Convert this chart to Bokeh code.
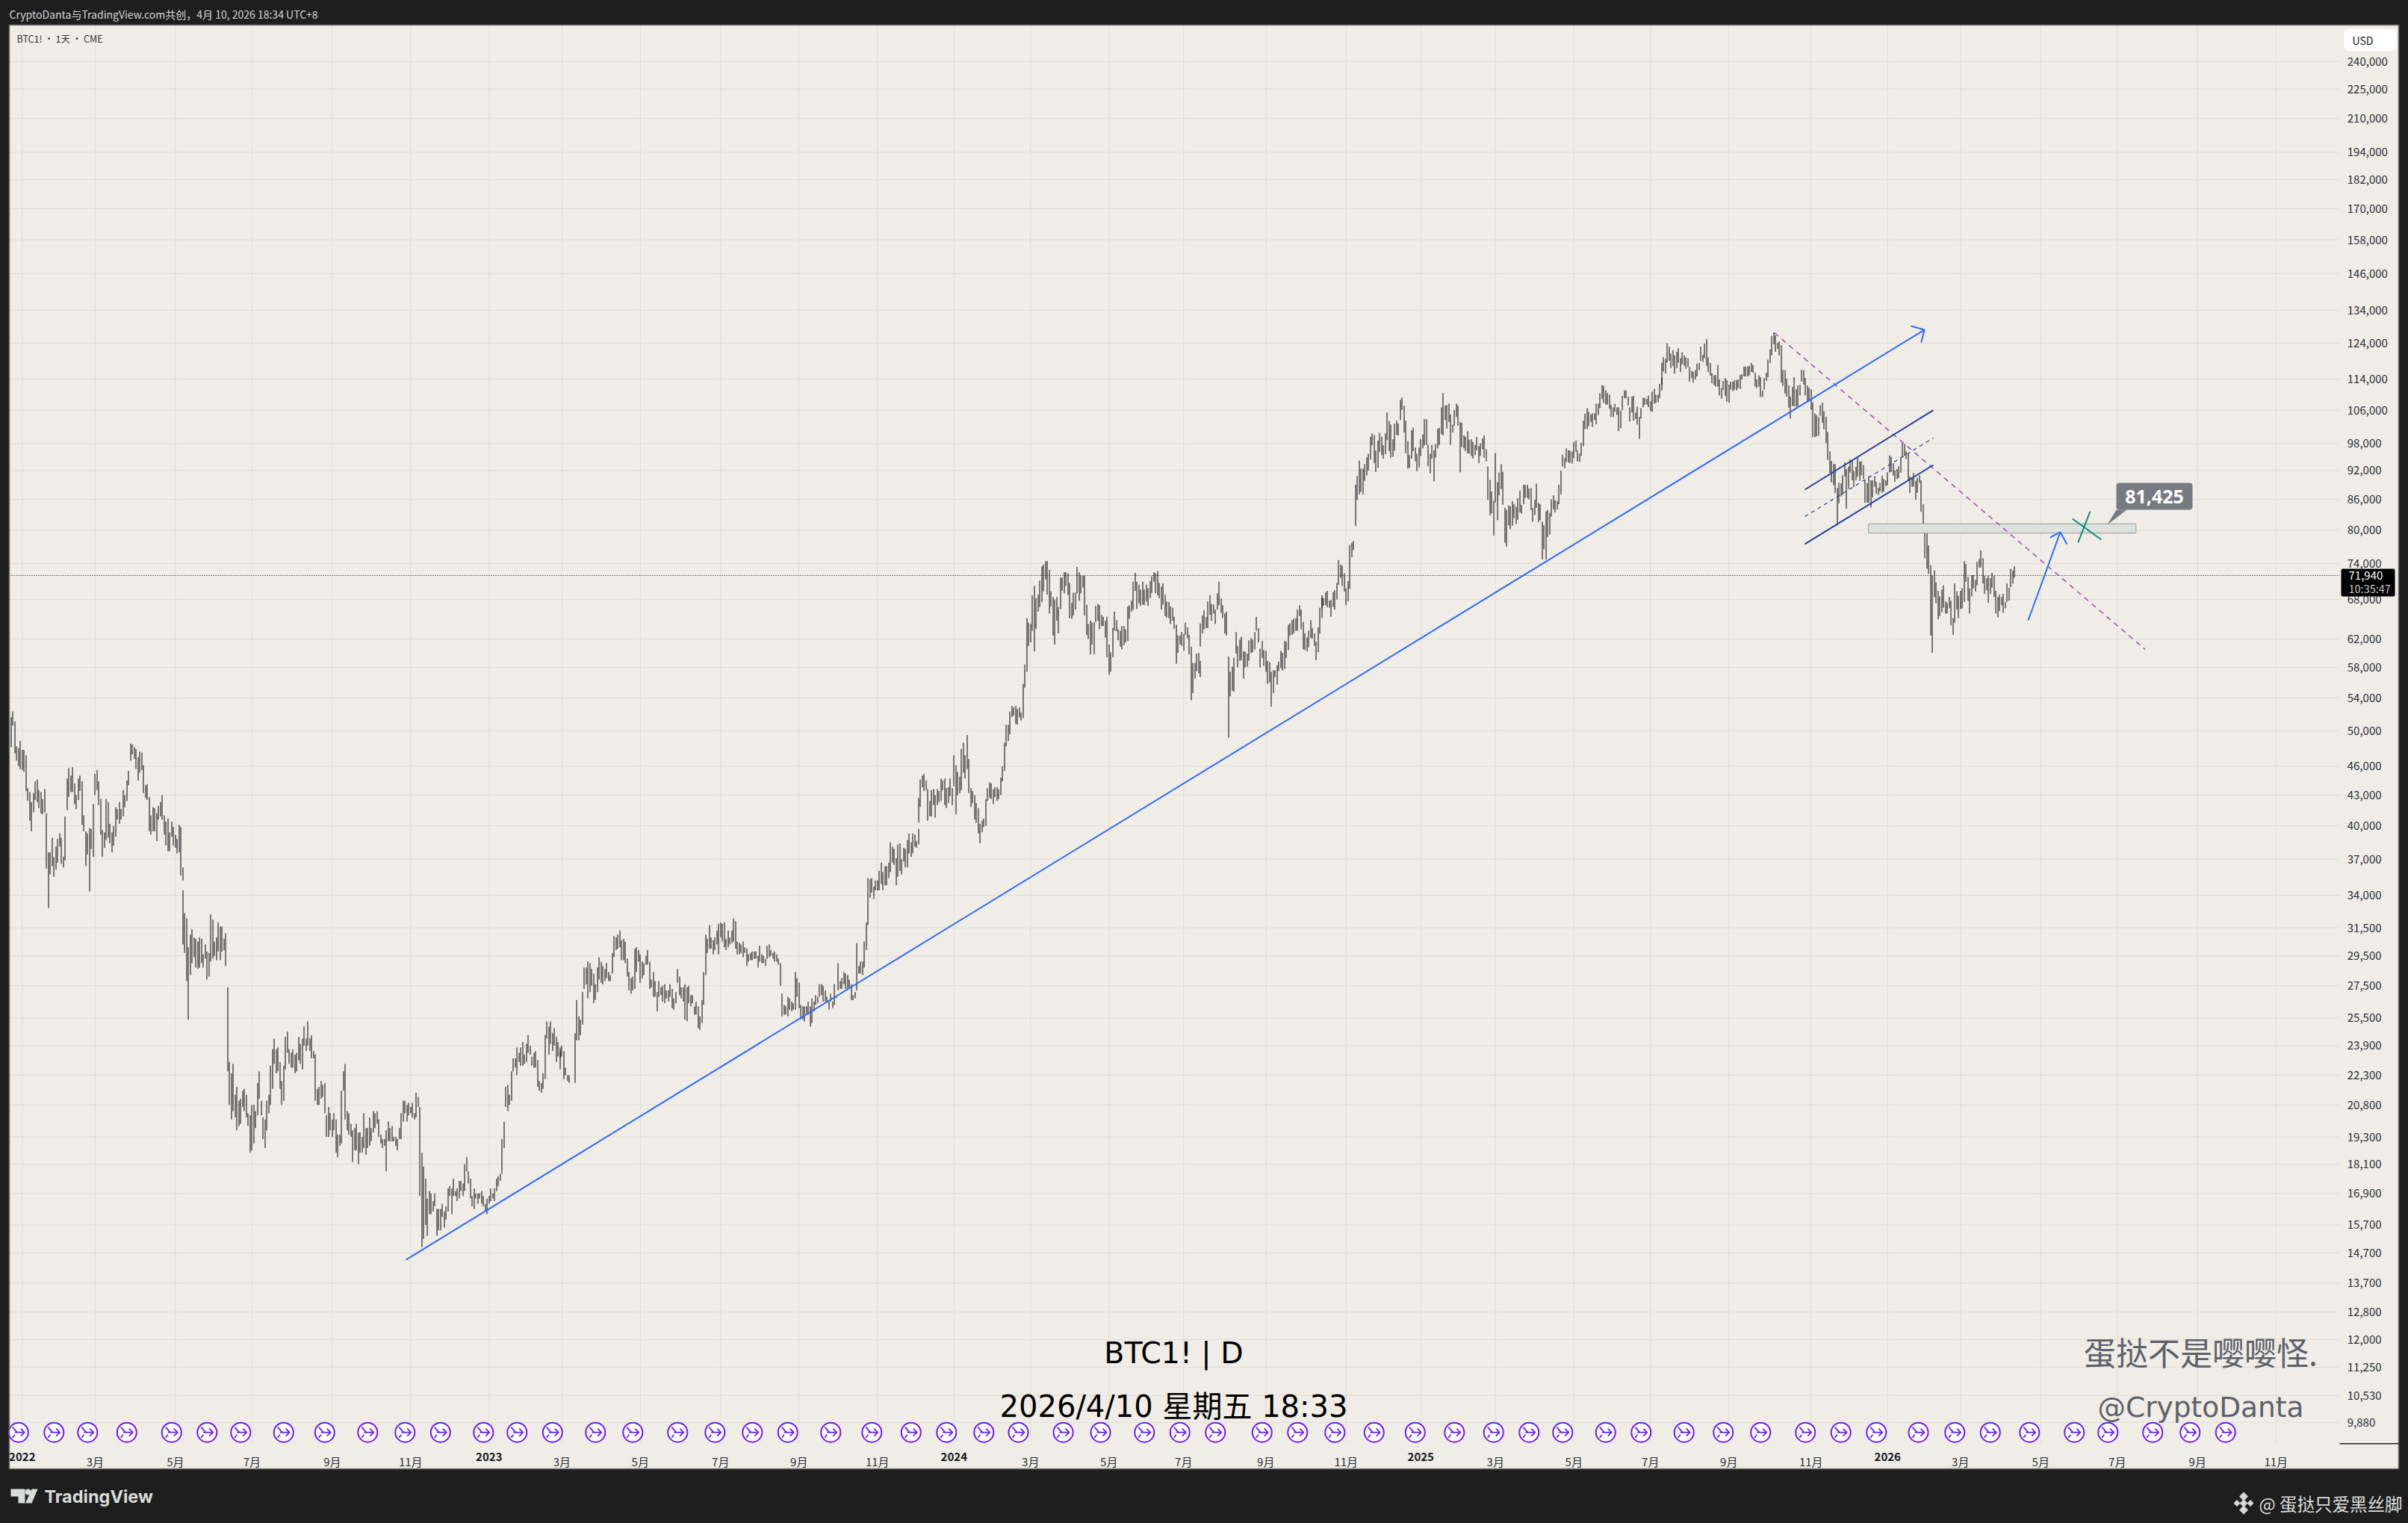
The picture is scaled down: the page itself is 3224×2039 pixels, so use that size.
from bokeh.plotting import figure
from bokeh.embed import file_html
from bokeh.resources import INLINE
from bokeh.models import (FixedTicker, NumeralTickFormatter, Label, BoxAnnotation, PolyAnnotation, Range1d)
import math

# ---------- daily bars, (high, low) in thousands of USD ----------
bars_a = [(51.6,48.1),(52.3,50.6),(51.1,47.4),(48.2,46.6),(48,46),(48.8,45.7),(47.8,45.6),(47.8,45.4),(47.2,43.4),(43.7,42.4),(43.3,40.5),(42.3,39.5),(43.2,41.3),(44.4,42.5),(44.6,42.3),(43.5,41.7),(43.3,41.2),(42.6,41.1),(43.6,41.3),(41.2,36.2),(37.6,33),(37.6,35.7),(38.9,36.4),(37.2,35.5),(38.1,36.1),(38.8,36.7),(39.3,38.1),(38.9,36.6),(37.2,36.3),(40.9,36.9),(44.7,41.5),(45.8,42.8),(45,43.3),(45.9,43.3),(44.2,42.1),(43,41.6),(44.7,42.5),(45,43.4),(44.4,40.1),(41,39.5),(39.5,36.4),(39.3,37.4),(39.8,34.3),(39.7,37.9),(42.1,37.2),(45.2,43),(45.6,43.5),(44.4,42),(42.6,39.2),(39.6,37.2),(39.4,38),(42.6,38.7),(42.3,38.9),(40.2,38.4),(39.4,37.6),(40,38.2),(41.8,39),(41.6,40.6),(42.3,40.2),(41.6,40.6),(43.5,40.9),(43,41.8),(44.5,42.4),(45.5,44),(48.5,46.6),(48.4,47.3),(48.1,46.8),(47.9,45.7),(47,44.5),(47.6,45.3),(47.5,45.6),(46.1,43.2),(44,42.7),(44.1,42.5),(42.8,39.5),(41,39.2),(41.8,39.5),(41.7,39.5),(41.2,38.6),(41.9,40.6),(42.3,40.9),(43,40.6),(41,39.2),(40.4,38.2),(40.7,37.7),(39.4,37.7),(40.4,39),(39.9,38.2),(39.2,38),(38.8,37.5),(40.1,37.6),(39.9,35.6),(36.3,35.2)]
bars_b1 = [(34.4,30.3),(32.6,29.7),(32.2,27.8),(30.1,25.4),(31,28.2),(31.4,29),(30.8,29.4),(30.7,28.7),(30.5,28.6),(30.8,28.7),(30.7,29),(29.6,28.7),(30.3,29.3),(29.8,27.9),(29.7,28.1),(32.5,29.1),(32.1,29.3),(30.5,29.5),(30.8,29.2),(31.9,29.8),(31.6,29.2),(31.6,29.8),(30.7,29.9),(31.1,28.8)]
bars_b2 = [(27.4,22.5),(23,20.8),(22.4,20.1),(22.9,20.5),(21.3,20.2),(21.7,19.6),(21,19.8),(21.1,19.9),(21.5,20.7),(21.6,20.5),(21.3,20.2),(20.4,19.8),(20.3,18.6),(20.8,18.7),(20.8,19),(20.5,19.7),(21.9,20.3),(22.5,21.1),(21,20.3),(20.2,19.2),(20.1,18.8),(21,19.6),(21.3,20.4),(22.8,20.8),(23.7,21.6),(24.3,22.9),(23.7,22.4),(23.8,22.5),(23,21.6),(22,20.8),(22.8,21),(24.4,22.6),(24.7,23.5),(23.7,22.9),(23.5,22.7),(23.7,22.7),(23.4,22.4),(23.5,22.5),(24.4,23.1),(24,22.9),(24.3,22.6),(25,23.9),(24.3,23.6),(25.3,23.9),(24.3,23.6),(24.5,23.2),(23.6,23.2),(23.4,21),(21.6,20.8),(21.7,20.8),(22,21.1),(21.8,21.2),(21.9,20.4),(20.3,19.3),(20.7,19.3),(20.4,19.6),(20.1,19.3),(20.4,19.6),(20.1,18.6),(19.4,18.4),(19.4,18.9),(21.5,19),(22.5,21.5),(22.9,20.1),(20.5,19.6),(20.4,19.4),(19.9,19.3),(19.6,18.2),(19.7,18.7),(19.9,18.7),(19.5,18.1),(19.5,18.6),(19.3,18.6),(20.4,18.8),(19.7,18.5),(19.7,18.8),(20.2,18.9),(19.7,19.1),(20.5,19.5),(20.4,19.7),(20.5,19.9),(20.1,19.3),(19.4,19),(19.2,18.8),(19.2,18.9),(19.6,17.8),(20,19.1),(19.7,19.1),(19.8,19.1),(19.3,19.1),(19.3,18.9),(19.2,18.7),(19.7,19.2),(20.4,19.2),(21,20),(21,20.4),(20.8,20),(20.9,20.3),(20.7,20.4),(20.9,20.2),(20.4,20.1),(21.4,20.2),(21.2,20.7),(20.7,16.8),(18.6,14.9),(18,15.2),(17.5,15.7),(16.7,15.3),(17,16.1),(16.9,16.1),(16.6,16.2),(16.9,16.4),(16.3,15.3),(16.3,15.5),(16.3,15.5),(16.5,16),(16.2,15.6),(16.4,15.9),(17.1,16.2),(17.2,16.8),(17.1,16.1),(17.5,16.8),(17,16.8),(17.1,16.6),(17.4,16.7),(17.4,17),(17.3,16.8),(18.1,17),(18.4,17.8),(17.8,17.3),(17.5,16.7),(16.8,16.4),(17.1,16.3),(16.9,16.7),(16.9,16.5),(16.9,16.7),(17,16.5),(16.8,16.4),(16.5,16.2),(16.7,16.1),(16.8,16.5),(17.1,16.6),(16.9,16.7),(17.1,16.6),(17.5,17),(17.6,17.2),(17.7,17.4),(19.2,17.7),(20,18.8),(21.7,20.7),(21.8,20.5),(21.3,20.8),(22.5,21),(23.2,22.5),(23.2,22.7),(23.8,22.3),(23.5,23),(23.8,22.8),(24.1,22.8),(23.4,22.9),(24,23),(24.5,23.5),(23.9,23.4),(23.3,22.8),(23.5,22.7),(23.6,22.7),(23.1,21.7),(22,21.5),(21.9,21.4),(22.4,21.6),(24.5,22.1),(25.3,24.3),(25,23.4),(25.3,24),(24.6,23.6),(24.9,23.9),(24.4,23),(24.1,23.3),(23.8,23.2)]
bars_c1 = [(23.6,22.6),(23.9,23.3),(23.6,22.1),(22.7,22.3),(22.3,22),(22.3,21.9)]
bars_c2 = [(24.6,21.9),(26.6,24.2),(25.6,24.2),(25.4,24.5),(27.1,25.1),(28.7,27.3),(28.7,27.6),(29.1,26.7),(29,27.1),(28.6,27.5),(28.3,26.4),(27.6,26.6),(28.7,27.1),(29.4,27.9),(29.1,27.7),(28.8,27.6),(28.6,27.8),(29,28),(28.4,27.8),(28.2,27.8),(29.7,28.3),(30.9,29.4),(30.8,29.9),(31,30),(31.3,30.1),(30.6,29.2),(30.7,29.2),(30.5,29),(29.3,28.1),(28.4,27.2),(28,27),(28.1,27.2),(30,27.3),(30.1,28.4),(29.9,29.1),(29.6,27.7),(29.1,28),(29,28.2),(29.5,28.9),(29.9,28.9),(29.1,27.3),(27.9,27.4),(28.4,26.8),(27.8,26.8),(27.1,25.9),(27.8,26.8),(27.4,26.9),(27.5,26.5),(27.6,26.4),(27.2,26.7),(27.2,26.5),(27.6,26.8),(27.3,26.1),(26.7,26),(27.1,26.4),(28.6,27.7),(28.1,26.9),(27.4,26.7),(27.4,26.5),(27.6,25.4),(27.4,25.3),(27.5,26.4),(26.9,26.2),(26.9,26.4),(26.2,25.7),(26.5,25.7),(26.2,24.9),(25.6,24.8),(26.6,25.2),(28.4,26.3),(31,28.2),(30.7,29.7),(31.7,30),(30.8,30),(30.6,29.6),(30.8,29.9),(31.3,30.3),(31.8,29.6),(31.9,30.8),(31.8,30.5),(31.9,30.1),(30.7,29.9),(31.3,30.1),(30.8,30.3),(31.3,30.4),(32.2,30.5),(32,30),(30.5,29.6),(30.4,29.6),(30.3,29.7),(30.5,29.4),(30.1,29.7),(30,28.8),(29.6,29.1),(29.7,29.2),(29.8,29.2),(29.8,29.3),(29.8,29.3),(29.5,28.7),(30.2,29.1),(29.6,29),(29.5,29),(29.3,28.8),(30.2,29.3),(30.3,29.4),(29.9,29.5),(29.7,29.3),(29.8,29.1),(29.6,29.1),(29.3,28.9),(29,27.5),(27,25.6),(26.3,25.7),(26.2,25.7),(26.8,25.6),(26.7,26),(26.5,25.9),(26.4,26),(28.4,26),(28,26.8),(27.7,26.1),(26.3,25.4),(26.2,25.4),(26.2,25.3),(26.2,25.7),(26.5,25.7),(26.2,25),(26.7,25.2),(26.5,25.9),(26.9,26.3),(26.8,26.4),(27.6,26.8),(27.6,26.9),(27.5,26.5),(27.2,26.5),(26.8,26.5),(26.5,26),(27,26.5),(26.5,26.1),(27.6,26.3),(26.8,26.7),(29,27.2),(27.8,27.3),(28,27.3),(28.4,27.6),(28.3,27.3),(28.2,27.3),(27.9,27.4),(27.6,26.6),(26.9,26.6),(27.1,26.7),(30.4,27.2),(28.8,28.3),(29.1,28.3),(29.1,28.2),(30.5,28.7),(31.9,29.9),(35.4,31.7),(35.3,33.8),(35.4,34.2),(34.7,33.7),(35.2,34.4),(35.2,34.4),(36,34.4),(36.7,34.9),(35.9,34.4),(36.4,34.8),(36.4,34.8),(36.7,35.4),(38.5,35.9),(38.1,36.7),(37.9,36.5),(37.1,34.8),(38.3,35.5),(38.4,36),(37,35.7),(38,36.8),(37.9,36.3),(38.7,36.3),(39.3,37.5),(38.5,37.2),(39.3,37.5),(39.2,38.1),(38.6,38),(39.7,38.3)]
bars_c3 = [(42.7,40.3),(44.6,41.8),(45,43.8),(45.2,43.4),(44.5,43.5),(43.6,40.5),(42.4,40.9),(43.5,40.9),(43.6,42),(43,40.8),(43.6,42),(43.4,42.3)]
bars_d1 = [(44.7,42.4),(44.5,43.5),(44.7,42),(43.7,41.7),(43.8,42.2),(44.7,42.9),(43.7,42),(47.2,43.9),(46.1,41.1),(45.4,43),(44.9,43.2),(47.9,43.5),(48.6,45.3),(47.2,44.7),(49.5,45.7),(46.8,43.2),(43.7,41.8),(43.4,42.2),(43,40.6),(42.2,40.3),(41.7,39.3),(40.2,38.4),(40.5,39.4),(40.7,39.9),(42.6,40),(43.7,42.4),(44.3,42.7),(44.2,42.6),(43.6,42.1),(43.8,42.8),(43.8,42.4),(43.6,42.6),(44.8,43),(46,44.4),(48.6,45.5),(50.7,48.2),(50.7,48.8),(52.3,49.6),(53,51.6),(52.8,51.8),(53,50.8),(52.6,50.7),(52.8,51.6),(52.2,51.2),(55.8,51.5),(58.4,55.3),(65.1,57.4),(64.4,61),(64.2,61.5),(68.7,63.2),(70.2,60.2),(68.2,63.5),(68.8,66.1),(71.1,66.8),(73.5,67.6),(73.8,69.3),(74.4,71.3),(74.4,68.8),(72.9,65.8),(69.3,66.9),(68.4,62.5),(68,61.2),(68.4,64.7),(66.8,62.8),(71.6,66.5),(71.6,69.4),(72.5,69),(72.5,70.2),(72.3,68.7),(70.7,65.1),(67.5,65),(69.1,65.5),(69.1,66.4),(73.4,69),(72.5,67.8),(71.9,69),(71.9,69.9),(71.9,65.5),(67.2,62.6),(64.2,62),(64.7,59.8),(64.4,61.2),(64.5,59.8),(67,64.5),(67.3,64.7),(67.1,63.4),(65.6,63.9),(65.3,63.9),(64.7,62.2),(65.3,59.4),(61.2,57),(60.1,57.4),(63.6,59.4),(66.1,63.2),(64.8,63.1),(63.4,61.8),(63.2,60.9),(63.9,60.5),(63.9,61.1),(63.4,61.5),(66.9,61.7),(67.1,65),(67.8,66.1),(70.9,66.4),(72.4,69.4),(70.9,66.5),(70.4,67.4),(69.6,67),(70.9,67.2),(69.6,67.1),(70.4,67.7),(69.8,67),(71,68.2),(71.8,69),(72.5,70.9),(72.3,69),(72.7,68.7),(70.7,68.2),(70.1,66.4),(70.6,67.2),(68.8,65.4),(67.7,65.2),(67.6,65.1),(66.9,64.2),(66.7,64.7),(65.3,63.5),(64.1,58.5),(62.5,60),(62.5,61.2),(63,61),(62.7,60.3),(64.4,62.6),(63.7,62.1),(62.6,59.8),(60.9,53.7),(58.6,54.6),(58.6,56.5),(59.9,57.5),(60,57.2),(58.9,56.7)]
bars_d2 = [(64.3,60.9),(65.5,62.8),(66.3,63.4),(65.3,63.6),(67.7,63.6),(68.7,65.6),(67.3,64.7),(67.2,65.8),(66.4,64.2),(69,66.4),(70.9,67.1),(68.2,65.9),(67.1,65.1),(65.8,62.8),(66.1,62.5)]
bars_d3 = [(59.5,49.2),(57.4,54.2),(58.1,54.9),(59.3,54.8),(63,59.9),(61,58),(61.9,58.9),(62.3,59),(60.2,56.5),(60.2,58),(59.9,58.1),(61.8,58.9),(62.1,60),(61.9,60.1),(63,60.5),(65.3,63.2),(63.6,61.5),(60.6,58),(61.7,59.3),(60.4,58.2),(60.3,57.4),(58.9,55.8),(58.7,56),(57.4,52.9),(57.6,54.6),(57.6,56.7),(58.3,55.7),(58.8,57.5),(60.3,57.9),(60,57.6),(61.7,57.8),(61.6,59.3),(64.1,60.4),(64.3,62.5),(64.8,62.6),(65,62.8),(65.1,63.2),(66.4,63.2),(67.1,65.4),(66.4,63.4),(64.5,60.5),(62.8,60.4),(62.2,60.2),(63.2,60.8),(64.8,62.1),(63.6,62.1),(62.8,61),(61.6,59),(63.7,60.1),(66.7,62.8),(68.3,65.1)]
bars_e1 = [(68.7,66.6),(68.2,67),(69.1,67.1),(69.4,66.8),(67.8,66.7),(67.9,65.3),(69.2,66.8),(69.5,66.4),(70.7,68),(74.6,70.4),(73.8,71.6),(73.6,70.2),(72.3,69.3),(69.8,67.1),(71,67.7),(77.3,69.7),(77.7,75.1),(78,76.4)]
bars_e2 = [(89,80.8),(90.8,85.9),(94.2,87),(92.4,87.5),(92.4,87),(93.4,89.8),(94.9,91),(95.7,92),(99.6,94.4),(100.4,97.6),(100,93.6),(96.4,91.7),(98.7,92.6),(100.5,96.1),(99.6,95.4),(97.6,94.6),(100.4,95.6),(105.4,98.8),(103.3,96.3),(102.5,94.8),(99,95),(102.7,96.4),(103.4,100),(102.7,99.9),(108.6,103.6),(109.2,106.1),(107.1,100.6),(103.4,95.8),(98.6,92.4),(95.4,92.6),(101.1,94.6),(101.7,96.3),(97.1,94),(95.7,91.9),(97.1,92.7),(99,95.2),(100.1,96.9),(103.8,97.6),(103.8,97.7),(97.7,92.9),(95.7,91.4),(97.7,94.6),(96.5,89.7),(97.9,94.8),(101.5,96.9),(101.7,97.7),(106.7,100.2),(110.3,99.9),(107.1,103.6),(107.3,101.5),(107.6,103.1),(104.9,97.7),(102.4,100.6),(106,102.2),(107.6,104.3),(107.1,102.2),(103.1,91.6),(102.9,97.2),(99.9,96.9),(99.6,96.3),(100.9,95.8),(98.9,95.7),(99,95.2),(98.4,94.6),(97.7,95.4),(99.5,96.5),(97.4,93.6),(98.1,95.2),(99.2,96.7),(99.9,94.8),(96.7,94),(92.9,85.9),(90,82.8),(87.6,83.2),(85.7,79),(95.8,85.4),(89.5,81.9),(91.6,86.8),(93.4,88.1),(91.7,84.9),(84.3,77.7),(83.9,77),(84.8,80.9),(84.6,80.2),(85.6,80.8),(85,82.3),(84.5,81.2),(86.2,82),(87.8,83.4),(84.9,83.2),(89,85),(88.9,86.3),(89,86.3),(88.2,86),(88.3,83.9),(84.3,81.6),(85.9,82.9),(89.2,84.3),(85.3,81.5),(85,81.9),(81.6,74.7),(80.9,76.5),(83.6,74.7),(83.9,78.7),(83.3,79.2),(86,82.6),(86.8,84),(85.8,83.4),(85.6,84),(89,85),(92,87),(95.5,92.9),(94.7,92.5),(96.9,93.9),(96.5,93.7),(96.4,93.7),(96.2,93.5),(98.4,94.7),(98.7,96.2),(96.5,94),(95.7,93.9),(98.2,95.2),(103.4,97.4),(105.1,101.4),(106.5,101.4),(105.6,102.1),(104.9,103.1),(105.2,101.9),(105.2,103.6),(107.6,102.5),(107.6,104.8),(110.3,106.5),(112.4,108.8),(112.2,107.8),(111,107.4),(110.3,107.4),(109.9,106.3),(107.3,104.3),(106.7,104.3),(107.6,105.6),(106.7,104.8),(106.7,100.9),(105.9,101.6),(109.6,106),(111,109),(111,109),(109.4,107.1),(106.7,103.2),(109.4,105.4),(109.6,103.4),(105.4,103.8),(106.9,102.5),(104.3,99.1),(106.5,103.9),(109.1,106.7),(109.1,107.3),(108.8,107.4),(109.7,106.7),(108.2,105.8),(110.7,105.6),(111.4,107.6),(109.9,107.8),(109.9,108),(112.7,109),(114.4,111)]
bars_e3 = [(118.5,112.5),(120,116),(119.5,115.5),(124,118.5),(123,119),(121,117),(122,117.5),(120.5,115.5),(121.5,117),(122.5,118.5)]
bars_f1 = [(119.7,115.9),(121.4,118),(120.5,117.6),(119.9,116.8),(119.7,117.2),(117.2,113.3),(116.2,114.3),(115.9,113.1),(116.4,113.9),(118.2,114.7),(118.4,116.4),(123,118.9),(120.7,118.7),(123.9,119.7),(125.2,117.6),(119.9,115.9),(118.4,114.9),(115.6,112.9),(115,112.4),(115.1,112),(117.8,112),(113.9,109.7),(111.6,108.9),(113.5,111.2),(114.3,109.5),(113.7,108.1),(112.5,107.9),(113.3,111.2),(113.3,110.8),(113.7,111.2),(113.7,111),(113.9,111.6),(115.1,111.4),(115.3,113.9),(117.4,114.7),(117.4,114.7),(117.4,114.7),(117.6,115),(118.4,115.9),(117.8,115.7),(115.7,112),(113.9,111.6),(115,112),(114.5,109.3),(111,109.3),(114.3,111.2),(115.7,113.5),(119.3,114.5),(122.2,118.4),(126.1,120.5),(127.2,123.7),(126.3,121.5),(124.1,122.4),(124.5,120.5),(123.4,113.1),(116.5,112.2),(116.4,110.2),(114.1,109.4),(112.3,106.6),(109.4,103.9),(111.9,107),(114.5,107),(111.3,106.8),(112.3,107),(112.5,109.7),(116.5,113.3),(116.4,112.5),(114.3,109.7),(112.3,108),(111.7,108.1),(111.3,106.1),(107.9,99.5),(105.2,99.5),(104.8,99.7),(104.3,99.8),(107.2,104.6),(107.9,102.9),(105.7,101.3),(104.4,98.1),(100.7,94.3),(96.2,91.5),(94.1,89.5),(93.4,88.9),(93.4,87.3),(88.3,80.9),(89.4,85.2),(89.3,86.6),(91,86.9),(93.8,90.7),(92.3,84.1),(92.9,88.1),(94.4,91.6),(94.4,89.9),(91.9,88.5),(92.8,89.9),(95,90.7),(94,89.8),(94,91),(93.2,90.2),(90,85.3),(89.3,85.3),(90.8,85.3),(89.9,84.4),(89.9,86.4),(90.8,88.6),(89.6,87.1),(88.4,86.9),(89.4,87.6),(90.9,87.3),(90.2,87.6),(89.9,88.7),(91.6,88.9),(95.3,91.6),(95,91.7),(93.6,90.9),(92,89.6),(92.3,90.2),(92.9,90.4),(95,91.5),(98.2,95),(97.9,95.2),(96.2,94.5),(95.7,89.8),(90.7,87.3),(90.5,88.6),(91.5,88.6),(89.8,85.9),(90.5,87.3),(91,89.4),(89.9,83.5),(85,81.2)]
bars_f2 = [(79.8,74.9),(79.5,73.1),(77.2,72.2),(73.7,62.5),(71.9,60),(72.8,68.4),(70.8,67.4),(69.4,64.9),(68.5,65.4),(69.6,66),(70.3,66.7),(67.7,65.8),(67.5,65.8),(68.4,66.6),(67.8,64),(65.1,62.6),(70.6,64.4),(69.3,66.4),(68.6,65.1),(69.4,66.5),(69.8,66.6),(74.4,67.6),(73.9,70.9),(71.7,67.8),(69.8,65.8),(72,68.5),(72,69.8),(71.2,69.3),(74.3,70.3),(74.8,73.3),(76.3,73.3),(74.9,70.6),(71.9,68.9),(71.5,69.5),(71.9,67.5),(71.5,68.9),(72.4,69.9),(71.9,68.4),(69.4,65.8),(68.4,65.2),(68.8,66.2),(68.4,67.1),(68.9,65.9),(67.6,66.6),(70.6,67.6),(69.9,67.8),(73.1,70),(72.8,70.6),(73.5,71.6)]

# (first bar number, bars)
segments = [(-6,bars_a),(86,bars_b1),(110,bars_b2),(288,bars_c1),(296,bars_c2),(480,bars_c3),(492,bars_d1),(631,bars_d2),(646,bars_d3),(696,bars_e1),(714,bars_e2),(878,bars_e3),(888,bars_f1),(1019,bars_f2)]

# ---------- axes ----------
price_ticks = [9880,10530,11250,12000,12800,13700,14700,15700,16900,18100,19300,20800,22300,23900,25500,27500,29500,31500,34000,37000,40000,43000,46000,50000,54000,58000,62000,68000,74000,80000,86000,92000,98000,106000,114000,124000,134000,146000,158000,170000,182000,194000,210000,225000,240000]
month_bars = [0,39,82,123,166,208,250,289,331,374,416,458,499,540,582,622,666,709,749,789,831,872,914,958,999,1038,1081,1122,1165,1207]
month_names = ["2022","3月","5月","7月","9月","11月","2023","3月","5月","7月","9月","11月","2024","3月","5月","7月","9月","11月","2025","3月","5月","7月","9月","11月","2026","3月","5月","7月","9月","11月"]
event_bars = [-2,17,35,56,80,99,117,140,162,185,205,224,247,265,284,307,327,351,371,391,410,433,455,476,495,515,533.5,557.5,577.5,601,620,639,664,683,703,724,746,767,788,807,825,848,867,890,911,931,955,974,993,1015.5,1035,1054,1075,1099,1117,1141,1161,1180]

# ---------- drawings (bar number, price) ----------
trend = ([205.5,1018.7],[14470,127950])
trend_head = ([1011.5,1018.7,1017],[129080,127950,124200])
down = ([938.3,1137],[127080,60490])
chan_up = ([954.7,1023.5],[87980,106000])
chan_lo = ([954.7,1023.5],[77430,93210])
chan_mid = ([954.7,1023.5],[82600,99290])
zone = (988.8,1132,81200,79480)
up_arrow = ([1074.3,1091.5],[64760,79630])
up_head = ([1086,1091.5,1095],[78650,79630,77430])
cross_a = ([1098,1113.5],[82170,78240])
cross_b = ([1101,1107.5],[77700,83620])
last_price = 71940

BG, DARK, GRID = "#f0ede6", "#1e1e1e", "#e0ddd6"
CJK = "Noto Sans CJK SC"
PANE_LEFT, PANE_RIGHT, PANE_LOW, PANE_TOP = -6.92, 1241.2, 9409, 261400
X0, X1 = -11.72, 1277.9
WIDTH = 3224

p = figure(width=WIDTH, height=2039, output_backend="svg", toolbar_location=None, y_axis_type="log",
           y_axis_location="right", x_range=Range1d(X0,X1), y_range=Range1d(7800,276945),
           min_border=0, background_fill_color=DARK, border_fill_color=DARK, outline_line_color=None)

def canvas_box(l,t,r,b,fill,line=None,radius=0,level="annotation",lw=1):
    p.add_layout(BoxAnnotation(left=l,right=r,top=t,bottom=b,left_units="canvas",right_units="canvas",top_units="canvas",bottom_units="canvas",
                        fill_color=fill,fill_alpha=1 if fill else 0,line_color=line,line_width=lw,line_alpha=1 if line else 0,border_radius=radius,level=level))
def canvas_poly(xs,ys,fill,level="annotation"):
    p.add_layout(PolyAnnotation(xs=xs,ys=ys,xs_units="canvas",ys_units="canvas",fill_color=fill,fill_alpha=1,line_color=None,level=level))
def canvas_text(text,x,y,size,color,align="left",font=CJK,style="normal"):
    p.add_layout(Label(x=x,y=y,x_units="canvas",y_units="canvas",text=text,text_font=font,text_font_size=f"{size}px",text_color=color,
                       text_align=align,text_baseline="middle",text_font_style=style))

canvas_box(12,33,3211,1966,BG,level="underlay")

p.grid.visible=False
for ax in (p.xaxis[0],p.yaxis[0]):
    ax.axis_line_color=None; ax.major_tick_line_color=None; ax.minor_tick_line_color=None
    ax.major_label_text_color="#2a2e39"; ax.major_label_text_font=CJK; ax.major_label_text_font_size="15px"
p.yaxis.ticker=FixedTicker(ticks=price_ticks)
p.yaxis.formatter=NumeralTickFormatter(format="0,0")
p.yaxis.major_label_standoff=4
p.yaxis[0].fixed_location=PANE_RIGHT
p.xaxis.ticker=FixedTicker(ticks=month_bars)
p.xaxis.major_label_overrides={b:("" if n.startswith("20") else n) for b,n in zip(month_bars,month_names)}
p.xaxis.major_label_standoff=8
p.xaxis[0].fixed_location=PANE_LOW

# grid, stopping at the edges of the price pane
p.segment(month_bars,[PANE_LOW]*len(month_bars),month_bars,[PANE_TOP]*len(month_bars),line_color=GRID,line_width=1)
p.segment([PANE_LEFT]*len(price_ticks),price_ticks,[PANE_RIGHT]*len(price_ticks),price_ticks,line_color=GRID,line_width=1)

for b,n in zip(month_bars,month_names):
    if n.startswith("20"):
        p.add_layout(Label(x=b,y=1950,x_units="data",y_units="canvas",text=n,text_font=CJK,text_font_size="15px",text_font_style="bold",
                           text_color="#131722",text_align="center",text_baseline="middle"))

# bars, each centred on a device pixel so that it stays a crisp one-pixel line
per_px = (X1-X0)/WIDTH
def snapped(bar):
    return (math.floor((bar-X0)/per_px)+0.5)*per_px+X0
xs,hi,lo=[],[],[]
for start,bars in segments:
    for k,(h,l) in enumerate(bars):
        xs.append(snapped(start+k)); hi.append(h*1000); lo.append(l*1000)
p.segment(xs,lo,xs,hi,line_color="#000000",line_width=1)

p.segment([PANE_LEFT],[last_price],[PANE_RIGHT],[last_price],line_color="#000000",line_width=1,line_dash="1 2")

# drawings
p.quad(left=[zone[0]],right=[zone[1]],top=[zone[2]],bottom=[zone[3]],fill_color="#dce1de",fill_alpha=0.95,line_color="#a8aaa8",line_width=1.2)
p.line(*down,line_color="#a94fc4",line_width=1.6,line_dash="7 6")
BLUE,NAVY="#2e6bff","#1f3f9f"
for seg in (trend,trend_head,up_arrow,up_head):
    p.line(*seg,line_color=BLUE,line_width=2)
for seg in (chan_up,chan_lo):
    p.line(*seg,line_color=NAVY,line_width=2)
p.line(*chan_mid,line_color=NAVY,line_width=1.2,line_dash="5 5")
for seg in (cross_a,cross_b):
    p.line(*seg,line_color="#0b8f7c",line_width=2)

# event icons
ICON_PRICE=9654
PX_X, PX_Y = 0.4, 571.2
strokes=[[(-5,0),(8,0)],[(3,-5),(8,0),(3,5)],[(-8,-7),(-2,0)],[(-8,7),(-5,3)]]
p.scatter(event_bars,[ICON_PRICE]*len(event_bars),size=26,marker="circle",fill_color="#ffffff",line_color="#6a1fff",line_width=2)
ix,iy=[],[]
for b in event_bars:
    for s in strokes:
        ix.append([b+dx*PX_X for dx,dy in s]); iy.append([ICON_PRICE*math.exp(-dy/PX_Y) for dx,dy in s])
p.multi_line(ix,iy,line_color="#6a1fff",line_width=1.8)

# frame, panels
canvas_box(12,33,3211,1966,None,line="#6e6e6e",lw=1.5,level="overlay")
canvas_box(3132,1931.5,3211,1933,"#222222",level="overlay")
canvas_box(3138,38,3208,68,"#ffffff",radius=6)
canvas_text("USD",3149,53,14,"#131722")
canvas_box(3134,761,3206,798,"#000000",radius=2)
canvas_text("71,940",3144,770,15,"#ffffff")
canvas_text("10:35:47",3144,787,14.5,"#c8c8c8")

canvas_box(2833,646,2935,682,"#787a82",radius=4)
canvas_poly([2833,2847,2821],[682,682,702],"#787a82")
canvas_text("81,425",2884,664,25,"#ffffff",align="center",font="Noto Sans",style="bold")

# texts
canvas_text("CryptoDanta与TradingView.com共创，4月 10, 2026 18:34 UTC+8",12,18,14,"#d6d6d6")
canvas_text("BTC1! · 1天 · CME",22,51,12.5,"#333333")
canvas_text("BTC1! | D",1571,1810,39.5,"#000000",align="center",font="DejaVu Sans")
canvas_text("2026/4/10 星期五 18:33",1571,1882,40,"#000000",align="center",font="DejaVu Sans, Noto Sans CJK SC")
canvas_text("蛋挞不是嘤嘤怪.",2946,1808,43,"#5d606b",align="center")
canvas_text("@CryptoDanta",2946,1883,37.5,"#5d606b",align="center",font="DejaVu Sans")

# footer
canvas_poly([14,33,33,24,24,14],[1993,1993,2012,2012,2003,2003],"#d8dcd9")
canvas_box(33,1993,41,2001,"#d8dcd9",radius=4)
canvas_poly([42,50,42,33.5],[1993,1993,2012,2012],"#d8dcd9")
canvas_text("TradingView",59,2003,23.5,"#d8dcd9",font="Inter",style="bold")
for cx,cy,r in [(3003.5,2012,5.5),(3003.5,2003,6),(3003.5,2021,6),(2994.5,2012,4.5),(3012.5,2012,4.5)]:
    canvas_poly([cx-r,cx,cx+r,cx],[cy,cy-r,cy,cy+r],"#d9d9d9")
canvas_text("@ 蛋挞只爱黑丝脚",3024,2012,23.5,"#dedede")

html=file_html(p,INLINE)
html=html.replace("<head>","<head><style>html,body{background:#1e1e1e;overflow:hidden}</style>",1)
open("out.html","w").write(html)
